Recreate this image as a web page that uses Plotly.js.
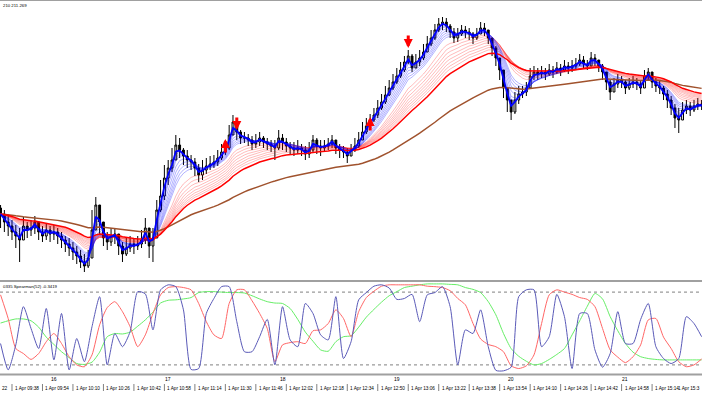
<!DOCTYPE html>
<html><head><meta charset="utf-8">
<script src="https://cdn.plot.ly/plotly-3.0.1.min.js"></script>
<style>html,body{margin:0;padding:0;background:#fff}#c{width:702px;height:395px}</style>
</head><body><div id="c"></div>
<script>
// ---- price bars (2-minute bars, index 0 = 09:32) ----
const firstOpen = 210.24;
const closeP = [
210.18,210.10,210.06,210.00,209.96,209.92,210.06,210.02,210.04,210.10,
210.00,209.96,210.02,209.98,210.00,209.96,209.92,209.88,209.84,209.80,
209.76,209.70,209.66,209.74,210.02,210.27,210.10,209.94,209.90,209.96,
209.98,209.86,209.78,209.84,209.88,209.86,209.88,209.92,210.04,209.86,
209.94,210.22,210.36,210.54,210.64,210.72,210.87,210.82,210.76,210.72,
210.70,210.64,210.57,210.62,210.66,210.68,210.70,210.74,210.80,210.84,
210.97,211.10,211.00,210.94,210.94,210.92,210.88,210.90,210.94,210.90,
210.88,210.86,210.84,210.94,210.90,210.86,210.84,210.82,210.84,210.82,
210.78,210.82,210.92,210.86,210.84,210.86,210.88,210.92,210.84,210.82,
210.80,210.76,210.82,210.86,210.92,211.00,211.06,211.12,211.17,211.24,
211.30,211.37,211.44,211.50,211.56,211.62,211.70,211.76,211.64,211.70,
211.74,211.80,211.88,211.94,212.02,212.08,212.10,212.06,212.00,211.94,
211.98,212.02,212.00,211.98,211.94,211.98,212.04,212.02,211.94,211.84,
211.74,211.62,211.44,211.32,211.20,211.32,211.38,211.40,211.44,211.56,
211.60,211.58,211.60,211.58,211.62,211.60,211.64,211.62,211.66,211.64,
211.66,211.68,211.72,211.68,211.66,211.74,211.72,211.66,211.60,211.50,
211.40,211.48,211.52,211.50,211.44,211.48,211.50,211.48,211.44,211.56,
211.60,211.50,211.46,211.44,211.38,211.32,211.24,211.14,211.12,211.22,
211.26,211.22,211.26,211.28,211.27];
const highP = [
210.27,210.22,210.17,210.12,210.07,210.04,210.15,210.10,210.12,210.16,
210.08,210.06,210.08,210.06,210.07,210.04,210.00,209.96,209.94,209.90,
209.86,209.82,209.78,209.82,210.22,210.35,210.27,210.07,210.00,210.04,
210.04,209.96,209.90,209.94,209.96,209.94,209.96,210.02,210.14,210.00,
210.04,210.32,210.52,210.67,210.72,210.84,210.97,210.94,210.84,210.82,
210.77,210.74,210.68,210.72,210.74,210.76,210.77,210.82,210.88,210.92,
211.07,211.17,211.12,211.02,211.00,210.98,210.96,210.98,211.00,210.96,
210.94,210.92,210.92,211.02,210.98,210.94,210.90,210.90,210.92,210.88,
210.86,210.90,210.97,210.94,210.92,210.92,210.94,210.97,210.92,210.88,
210.86,210.84,210.88,210.94,211.00,211.10,211.14,211.18,211.24,211.32,
211.38,211.46,211.52,211.58,211.64,211.70,211.76,211.82,211.78,211.78,
211.82,211.88,211.96,212.02,212.08,212.14,212.15,212.14,212.08,212.04,
212.04,212.07,212.06,212.04,212.00,212.04,212.10,212.09,212.02,211.94,
211.86,211.74,211.60,211.44,211.32,211.40,211.46,211.46,211.50,211.64,
211.66,211.64,211.66,211.64,211.68,211.66,211.70,211.68,211.72,211.70,
211.72,211.74,211.78,211.76,211.72,211.80,211.78,211.72,211.68,211.60,
211.52,211.54,211.58,211.56,211.52,211.54,211.56,211.54,211.52,211.62,
211.64,211.58,211.54,211.52,211.46,211.42,211.36,211.28,211.24,211.30,
211.32,211.30,211.32,211.34,211.32];
const lowP = [
210.04,210.00,209.96,209.92,209.84,209.70,209.92,209.94,209.96,209.98,
209.92,209.90,209.92,209.90,209.92,209.88,209.84,209.80,209.76,209.72,
209.68,209.64,209.60,209.64,209.74,210.07,209.97,209.86,209.82,209.86,
209.88,209.77,209.70,209.76,209.80,209.78,209.82,209.84,209.88,209.74,
209.70,209.96,210.20,210.32,210.47,210.60,210.72,210.74,210.67,210.64,
210.62,210.56,210.50,210.52,210.58,210.62,210.64,210.66,210.72,210.77,
210.82,210.97,210.92,210.88,210.89,210.86,210.82,210.84,210.86,210.84,
210.82,210.80,210.72,210.82,210.82,210.80,210.78,210.76,210.78,210.76,
210.72,210.74,210.80,210.78,210.76,210.80,210.82,210.84,210.78,210.74,
210.74,210.69,210.76,210.80,210.84,210.92,210.98,211.04,211.10,211.14,
211.22,211.28,211.36,211.42,211.48,211.54,211.60,211.68,211.60,211.64,
211.66,211.72,211.80,211.86,211.92,212.00,212.02,212.00,211.94,211.89,
211.90,211.96,211.94,211.92,211.88,211.92,211.98,211.96,211.88,211.76,
211.66,211.52,211.34,211.20,211.12,211.18,211.28,211.34,211.36,211.46,
211.52,211.52,211.54,211.52,211.56,211.54,211.58,211.56,211.60,211.58,
211.60,211.62,211.66,211.64,211.62,211.66,211.66,211.60,211.52,211.42,
211.32,211.40,211.44,211.44,211.38,211.42,211.44,211.42,211.38,211.48,
211.52,211.44,211.40,211.38,211.32,211.24,211.17,211.04,210.99,211.14,
211.18,211.16,211.20,211.22,211.22];

// ---- oscillator panel, sampled every 2 bars ----
const spBlue = [-0.33,-0.91,-0.36,0.48,0.0,-0.44,0.44,-0.69,0.33,-0.91,
-0.22,-0.73,0.04,0.7,-0.8,-0.11,-0.40,-0.07,0.81,0.76,
-0.03,0.85,0.96,0.92,0.41,-0.9,-0.88,0.33,0.66,0.92,
0.92,0.15,-0.51,-0.51,-0.18,0.2,-0.80,0.48,-0.25,-0.40,
0.55,0.33,-0.14,-0.25,0.70,-0.66,-0.29,0.63,0.79,0.93,
0.96,0.89,0.64,0.66,0.75,0.15,0.74,0.79,0.92,0.48,
-0.80,-0.03,-0.11,0.41,-0.40,-0.92,-0.93,-0.85,0.70,0.85,
0.85,-0.40,-0.18,0.75,0.26,-0.88,0.33,0.33,-0.47,-0.85,
-0.55,0.37,-0.33,-0.33,0.2,0.55,-0.40,-0.66,-0.77,-0.66,
0.26,0.11,-0.18];
const spRed = [0.74,0.22,-0.44,-0.55,-0.68,-0.55,-0.29,-0.11,-0.33,-0.62,
-0.80,-0.84,-0.58,0.08,0.46,0.59,0.37,0.04,-0.40,-0.14,
0.33,0.74,0.90,0.92,0.90,0.85,0.55,0.15,-0.14,-0.22,
0.55,0.85,0.85,0.61,0.33,0.0,-0.73,-0.36,-0.31,-0.29,
-0.33,-0.05,-0.03,0.11,0.41,0.22,-0.18,0.37,0.68,0.82,
0.93,0.96,0.96,0.96,0.96,0.96,0.93,0.92,0.90,0.83,
0.66,0.52,0.11,-0.23,-0.35,-0.40,-0.51,-0.82,-0.88,-0.82,
-0.58,0.11,0.74,0.85,0.80,0.75,0.68,0.64,0.48,0.0,
-0.47,-0.63,-0.75,-0.62,-0.36,0.19,0.22,-0.19,-0.44,-0.73,
-0.84,-0.80,-0.67];
const spGreen = [0.12,0.17,0.21,0.21,0.17,0.03,-0.19,-0.35,-0.51,-0.64,
-0.77,-0.79,-0.74,-0.52,-0.18,-0.11,-0.12,-0.08,0.05,0.19,
0.36,0.56,0.62,0.63,0.65,0.68,0.79,0.81,0.81,0.80,
0.79,0.79,0.78,0.72,0.65,0.59,0.56,0.55,0.44,0.20,
-0.08,-0.28,-0.47,-0.50,-0.29,-0.18,-0.16,0.03,0.25,0.42,
0.58,0.72,0.81,0.90,0.93,0.96,0.98,0.98,0.98,0.97,
0.96,0.90,0.86,0.79,0.59,0.30,-0.11,-0.44,-0.61,-0.72,
-0.80,-0.77,-0.68,-0.57,-0.44,-0.14,0.17,0.49,0.77,0.65,
0.26,-0.05,-0.33,-0.52,-0.62,-0.66,-0.68,-0.69,-0.69,-0.69,
-0.69,-0.69,-0.69];

// ---- signals ----
const buyBars = [59, 97], buyPrices = [210.93, 211.15];
const sellBars = [62, 107], sellPrices = [211.02, 211.84];

// ---- axis labels (first and last are cut by the window edges in the reference) ----
const timeLabels = ['22','1 Apr 09:38','1 Apr 09:54','1 Apr 10:10','1 Apr 10:26','1 Apr 10:42',
'1 Apr 10:58','1 Apr 11:14','1 Apr 11:30','1 Apr 11:46','1 Apr 12:02','1 Apr 12:18','1 Apr 12:34',
'1 Apr 12:50','1 Apr 13:06','1 Apr 13:22','1 Apr 13:38','1 Apr 13:54','1 Apr 14:10','1 Apr 14:26',
'1 Apr 14:42','1 Apr 14:58','1 Apr 15:14','1 Apr 15:3'];
const timeLabelBars = [-5,3,11,19,27,35,43,51,59,67,75,83,91,99,107,115,123,131,139,147,155,163,171,179];
const hourLabels = ['16','17','18','19','20','21'];
const hourBars = [14,44,74,104,134,164];
const headerText = '210 211.269';
const oscText = '0335 Spearman(52) -0.3419';

// ---- indicator periods (bars) ----
const blueThickPeriod = 2;
const blueThinPeriods = [2.5,3,3.5,4.5,5.5,6.5,7.5,8.5];
const redThinPeriods = [12,14,16,18,20,22,24,26];
const redThickPeriod = 29;
const brownPeriod = 64;

const bars = closeP.map((_, i) => i);
const openP = closeP.map((c, i) => i === 0 ? firstOpen : closeP[i - 1]);
const hi = highP.map((h, i) => Math.max(h, openP[i], closeP[i]));
const lo = lowP.map((l, i) => Math.min(l, openP[i], closeP[i]));

function ema(src, n) {
  const a = 2 / (n + 1); const out = [src[0]];
  for (let i = 1; i < src.length; i++) out.push(out[i - 1] + a * (src[i] - out[i - 1]));
  return out;
}

const traces = [];
traces.push({type:'candlestick', x:bars, open:openP, high:hi, low:lo, close:closeP,
  xaxis:'x', yaxis:'y', whiskerwidth:0,
  increasing:{line:{color:'#000000', width:1}, fillcolor:'#ffffff'},
  decreasing:{line:{color:'#000000', width:1}, fillcolor:'#000000'},
  hoverinfo:'skip'});
redThinPeriods.forEach(p => traces.push({type:'scatter', mode:'lines', x:bars, y:ema(closeP, p),
  line:{color:'rgba(255,0,0,0.45)', width:0.6}, hoverinfo:'skip'}));
blueThinPeriods.forEach(p => traces.push({type:'scatter', mode:'lines', x:bars, y:ema(closeP, p),
  line:{color:'rgba(0,0,255,0.5)', width:0.6}, hoverinfo:'skip'}));
traces.push({type:'scatter', mode:'lines', x:bars, y:ema(closeP, brownPeriod),
  line:{color:'#a0522d', width:1.5}, hoverinfo:'skip'});
traces.push({type:'scatter', mode:'lines', x:bars, y:ema(closeP, redThickPeriod),
  line:{color:'#ff0000', width:1.5}, hoverinfo:'skip'});
traces.push({type:'scatter', mode:'lines', x:bars, y:ema(closeP, blueThickPeriod),
  line:{color:'#0000ff', width:1.8}, hoverinfo:'skip'});

const oscX = spBlue.map((_, k) => 2 * k);
traces.push({type:'scatter', mode:'lines', x:oscX, y:spGreen, xaxis:'x', yaxis:'y2',
  line:{color:'#66ee66', width:1, shape:'spline', smoothing:0.6}, hoverinfo:'skip'});
traces.push({type:'scatter', mode:'lines', x:oscX, y:spRed, xaxis:'x', yaxis:'y2',
  line:{color:'#ff6666', width:1, shape:'spline', smoothing:0.6}, hoverinfo:'skip'});
traces.push({type:'scatter', mode:'lines', x:oscX, y:spBlue, xaxis:'x', yaxis:'y2',
  line:{color:'#5a5ab8', width:1, shape:'spline', smoothing:0.6}, hoverinfo:'skip'});

const W = 702, H = 395;
const xr = [-0.147, 184.1];
const toPaperX = b => (b - xr[0]) / (xr[1] - xr[0]);
const py = px => 1 - px / H;
const lastIdx = timeLabels.length - 1;

const shapes = [
  {type:'line', xref:'paper', yref:'y2', x0:0, x1:1, y0:0.8, y1:0.8, line:{color:'#808080', width:1, dash:'dot'}, layer:'below'},
  {type:'line', xref:'paper', yref:'y2', x0:0, x1:1, y0:-0.8, y1:-0.8, line:{color:'#808080', width:1, dash:'dot'}, layer:'below'},
  {type:'line', xref:'paper', yref:'paper', x0:0, x1:1, y0:py(0.5), y1:py(0.5), line:{color:'#a0a0a0', width:1}},
  {type:'line', xref:'paper', yref:'paper', x0:0, x1:1, y0:py(281), y1:py(281), line:{color:'#a0a0a0', width:2}},
  {type:'line', xref:'paper', yref:'paper', x0:0, x1:1, y0:py(374.5), y1:py(374.5), line:{color:'#a0a0a0', width:2}}
];
timeLabelBars.forEach((b, i) => { if (b >= 0 && i !== lastIdx) shapes.push({type:'line', xref:'paper', yref:'paper',
  x0:toPaperX(b), x1:toPaperX(b), y0:py(391), y1:py(384), line:{color:'#808080', width:1}}); });

const fam = 'Liberation Sans, Arial, sans-serif';
const fnt = {family:fam, size:4.7, color:'#000000'};
const annotations = [
  {xref:'paper', yref:'paper', x:0.5/W, y:py(5.5), xanchor:'left', yanchor:'middle', showarrow:false,
   text:headerText, font:{family:fam, size:4.3, color:'#000'}},
  {xref:'paper', yref:'paper', x:0.5/W, y:py(286), xanchor:'left', yanchor:'middle', showarrow:false,
   text:oscText, font:{family:fam, size:4.3, color:'#000'}}
];
timeLabels.forEach((t, i) => {
  const b = timeLabelBars[i];
  let ann = {xref:'paper', yref:'paper', x:toPaperX(b), xshift:1, y:py(388), xanchor:'left',
    yanchor:'middle', showarrow:false, text:t, font:fnt};
  if (b < 0) { ann.x = 0.3 / W; ann.xshift = 0; }
  if (i === lastIdx) { ann.x = 701.5 / W; ann.xshift = 0; ann.xanchor = 'right'; }
  annotations.push(ann);
});
hourLabels.forEach((t, i) => annotations.push({xref:'paper', yref:'paper', x:toPaperX(hourBars[i]),
  y:py(379), xanchor:'center', yanchor:'middle', showarrow:false, text:t, font:{family:fam, size:5, color:'#000'}}));
buyBars.forEach((b, i) => annotations.push({xref:'x', yref:'y', x:b, y:buyPrices[i], ax:0, ay:15,
  text:'', showarrow:true, arrowhead:2, arrowsize:0.6, arrowwidth:3, arrowcolor:'#ff0000'}));
sellBars.forEach((b, i) => annotations.push({xref:'x', yref:'y', x:b, y:sellPrices[i], ax:0, ay:-14,
  text:'', showarrow:true, arrowhead:2, arrowsize:0.6, arrowwidth:3, arrowcolor:'#ff0000'}));

const layout = {
  width:W, height:H, margin:{l:0, r:0, t:0, b:0}, paper_bgcolor:'#ffffff', plot_bgcolor:'#ffffff',
  showlegend:false,
  xaxis:{range:xr, showgrid:false, zeroline:false, showticklabels:false, ticks:'', showline:false,
         rangeslider:{visible:false}, anchor:'y2'},
  yaxis:{domain:[py(279), py(1)], range:[209.53, 212.31], showgrid:false, zeroline:false,
         showticklabels:false, ticks:'', showline:false},
  yaxis2:{domain:[py(374), py(283)], range:[-1, 1], showgrid:false, zeroline:false,
          showticklabels:false, ticks:'', showline:false},
  shapes:shapes, annotations:annotations
};
Plotly.newPlot('c', traces, layout, {staticPlot:true, displayModeBar:false});
</script></body></html>
